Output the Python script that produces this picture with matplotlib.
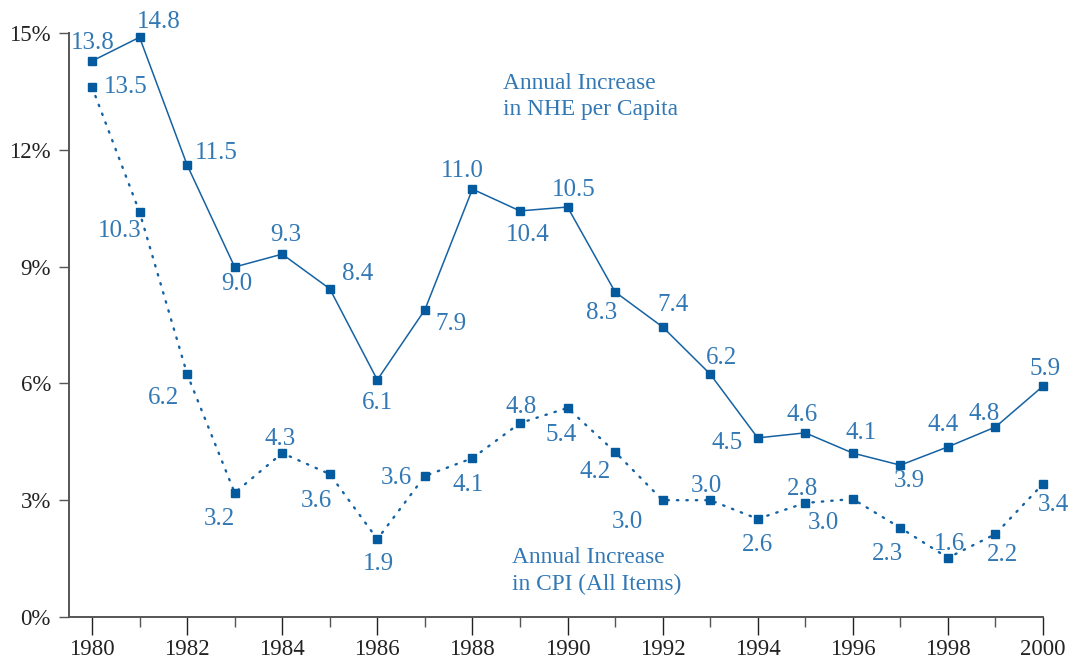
import matplotlib
matplotlib.use("Agg")
import matplotlib.pyplot as plt
from matplotlib.ticker import FixedLocator

# ---- data ----
years = list(range(1980, 2001))
nhe = [14.28, 14.89, 11.61, 8.99, 9.32, 8.43, 6.09, 7.89, 10.99, 10.43, 10.53,
       8.35, 7.45, 6.24, 4.60, 4.73, 4.21, 3.90, 4.37, 4.88, 5.93]
nhe_labels = ["13.8", "14.8", "11.5", "9.0", "9.3", "8.4", "6.1", "7.9", "11.0", "10.4", "10.5",
              "8.3", "7.4", "6.2", "4.5", "4.6", "4.1", "3.9", "4.4", "4.8", "5.9"]
cpi = [13.61, 10.40, 6.24, 3.19, 4.21, 3.67, 2.00, 3.62, 4.08, 4.98, 5.37,
       4.24, 3.00, 3.00, 2.52, 2.93, 3.03, 2.29, 1.52, 2.13, 3.42]
cpi_labels = ["13.5", "10.3", "6.2", "3.2", "4.3", "3.6", "1.9", "3.6", "4.1", "4.8", "5.4",
              "4.2", "3.0", "3.0", "2.6", "2.8", "3.0", "2.3", "1.6", "2.2", "3.4"]
y_ticks = [0, 3, 6, 9, 12, 15]
y_ticklabels = ["0%", "3%", "6%", "9%", "12%", "15%"]
x_ticks = list(range(1980, 2001, 2))
nhe_name = ["Annual Increase", "in NHE per Capita"]
cpi_name = ["Annual Increase", "in CPI (All Items)"]

# ---- label offsets (pixels, image coords: +x right, +y down; label centre relative to point) ----
nhe_off = [(1, -20), (19, -17), (29, -14), (2, 15), (4, -21), (28, -17), (0, 21), (26, 12),
           (-10, -20), (8, 22), (6, -19), (-13, 19), (10, -24), (11, -18), (-31, 3),
           (-3, -20), (8, -22), (9, 14), (-5, -24), (-11, -15), (2, -19)]
cpi_off = [(34, -2), (-20, 17), (-24, 22), (-15, 24), (-2, -16), (-13, 25), (1, 23), (-28, 0),
           (-4, 25), (1, -18), (-6, 25), (-20, 18), (-35, 20), (-4, -16), (0, 24), (-3, -16),
           (-29, 22), (-13, 24), (2, -16), (7, 19), (10, 19)]

FONT = ["Liberation Serif", "DejaVu Serif"]
plt.rcParams["font.family"] = FONT

W, H = 1074, 662
fig = plt.figure(figsize=(W / 100, H / 100), dpi=100)
ax = fig.add_axes([69 / W, 1 - 617 / H, (1043 - 69) / W, (617 - 33) / H])

line_c = "#1562a3"
mark_c = "#035a9e"
text_c = "#3278b5"

ax.plot(years, nhe, color=line_c, lw=1.1, marker="s", ms=5.8, mfc=mark_c, mec=mark_c,
        clip_on=False, zorder=3)
ax.plot(years, cpi, color=line_c, lw=1.7, ls=(0, (0.6, 3.4)), dash_capstyle="round",
        marker="s", ms=5.8, mfc=mark_c, mec=mark_c, clip_on=False, zorder=3)

DIGIT_HALF = 8  # half digit height in px -> baseline placement
LABEL_FS = 18
for x, y, s, (dx, dy) in zip(years, nhe, nhe_labels, nhe_off):
    ax.annotate(s, (x, y), xytext=(dx, -(dy + DIGIT_HALF)), textcoords="offset pixels",
                ha="center", va="baseline", fontsize=LABEL_FS, color=text_c, annotation_clip=False)
for x, y, s, (dx, dy) in zip(years, cpi, cpi_labels, cpi_off):
    ax.annotate(s, (x, y), xytext=(dx, -(dy + DIGIT_HALF)), textcoords="offset pixels",
                ha="center", va="baseline", fontsize=LABEL_FS, color=text_c, annotation_clip=False)

# series names
NAME_FS = 16.8
fig.text(503 / W, 1 - 89 / H, nhe_name[0], fontsize=NAME_FS, color=text_c, ha="left", va="baseline")
fig.text(503 / W, 1 - 115 / H, nhe_name[1], fontsize=NAME_FS, color=text_c, ha="left", va="baseline")
fig.text(512 / W, 1 - 563 / H, cpi_name[0], fontsize=NAME_FS, color=text_c, ha="left", va="baseline")
fig.text(512 / W, 1 - 590 / H, cpi_name[1], fontsize=NAME_FS, color=text_c, ha="left", va="baseline")

ax.set_xlim(1979.516, 2000)
ax.set_ylim(0, 15)
ax.set_yticks(y_ticks)
ax.set_yticklabels(y_ticklabels)
ax.set_xticks(x_ticks)
ax.set_xticklabels([str(t) for t in x_ticks])
ax.xaxis.set_minor_locator(FixedLocator(list(range(1981, 2000, 2))))

for side in ["top", "right"]:
    ax.spines[side].set_visible(False)
spine_c = "#555555"
for side in ["left", "bottom"]:
    ax.spines[side].set_color(spine_c)
    ax.spines[side].set_linewidth(1.4)

ax.tick_params(axis="y", which="major", length=7, width=1.0, color=spine_c, pad=6,
               labelsize=16.5, labelcolor="#222222")
ax.tick_params(axis="x", which="major", length=13, width=1.0, color="#222222", pad=3,
               labelsize=16.5, labelcolor="#222222")
ax.tick_params(axis="x", which="minor", length=7.5, width=1.0, color=spine_c)
ax.set_facecolor("white")

fig.savefig("out.png", dpi=100, facecolor="white")
